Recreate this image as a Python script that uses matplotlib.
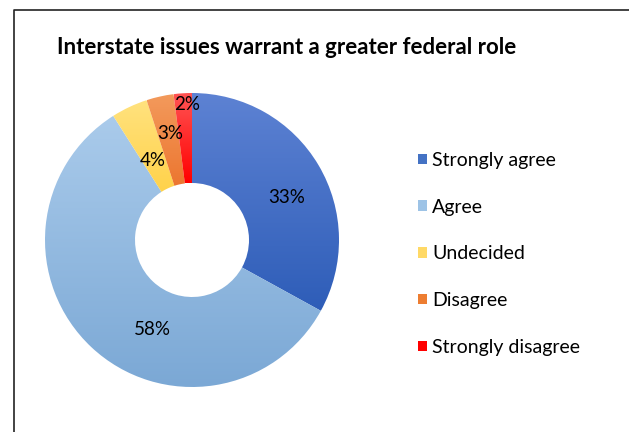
import numpy as np
import matplotlib.pyplot as plt
from matplotlib.colors import LinearSegmentedColormap
from matplotlib.patches import Patch
from matplotlib.lines import Line2D

plt.rcParams['font.family'] = ['Lato', 'DejaVu Sans']

title = 'Interstate issues warrant a greater federal role'
categories = ['Strongly agree', 'Agree', 'Undecided', 'Disagree', 'Strongly disagree']
shares = [33, 58, 4, 3, 2]

# gradient ends (top, bottom) per slice, plus flat colour for the legend keys
grad_top = ['#5D82D3', '#AACBEB', '#FFE27E', '#F39A5C', '#FF5555']
grad_bottom = ['#2E5DB8', '#7BA8D5', '#FFD24A', '#EC7630', '#FF0000']
key_colors = ['#4472C4', '#9DC3E6', '#FFD966', '#ED7D31', '#FF0000']

# label placement (radius, angle in degrees) measured from the ring centre
label_pos = [(104, 24), (98, -114), (89, 116), (109, 101.5), (136, 92)]

W, H = 629, 432
fig = plt.figure(figsize=(W / 100, H / 100), dpi=100)
ax = fig.add_axes([0, 0, 1, 1])

cx, cy = 192, H - 240
radius = 147
ring = 90

wedges, texts, autotexts = ax.pie(
    shares, startangle=90, counterclock=False, center=(cx, cy), radius=radius,
    autopct='%d%%', pctdistance=0.7,
    wedgeprops=dict(width=ring, linewidth=0),
    textprops=dict(fontsize=13.5, color='black'))

ax.set_xlim(0, W)
ax.set_ylim(0, H)
ax.set_aspect('equal')
ax.axis('off')

grad = np.linspace(0, 1, 256).reshape(-1, 1)
for i, w in enumerate(wedges):
    bb = w.get_path().get_extents()
    cmap = LinearSegmentedColormap.from_list(f'g{i}', [grad_bottom[i], grad_top[i]])
    w.set_facecolor('none')
    im = ax.imshow(grad, cmap=cmap, origin='lower', aspect='auto',
                   extent=(bb.x0, bb.x1, bb.y0, bb.y1), zorder=1,
                   interpolation='bilinear')
    im.set_clip_path(w)

ax.set_xlim(0, W)
ax.set_ylim(0, H)

for t, (r, a) in zip(autotexts, label_pos):
    t.set_position((cx + r * np.cos(np.radians(a)), cy + r * np.sin(np.radians(a))))
    t.set_zorder(3)
    t.set_ha('center')
    t.set_va('center')

ax.text(57, H - 48, title, fontsize=16, fontweight='bold', ha='left', va='center')

handles = [Patch(facecolor=c, edgecolor='none') for c in key_colors]
ax.legend(handles, categories, loc='upper left', bbox_to_anchor=(410 / W, 1 - 144 / H),
          frameon=False, fontsize=14, handlelength=0.45, handleheight=0.45,
          handletextpad=0.3, labelspacing=1.53, borderaxespad=0)

# chart border (left and top edges)
fig.add_artist(Line2D([14 / W, 14 / W, 1.0], [0.0, 1 - 10 / H, 1 - 10 / H],
                      transform=fig.transFigure, color='#222222', linewidth=1.2))

fig.savefig('out.png', dpi=100)
